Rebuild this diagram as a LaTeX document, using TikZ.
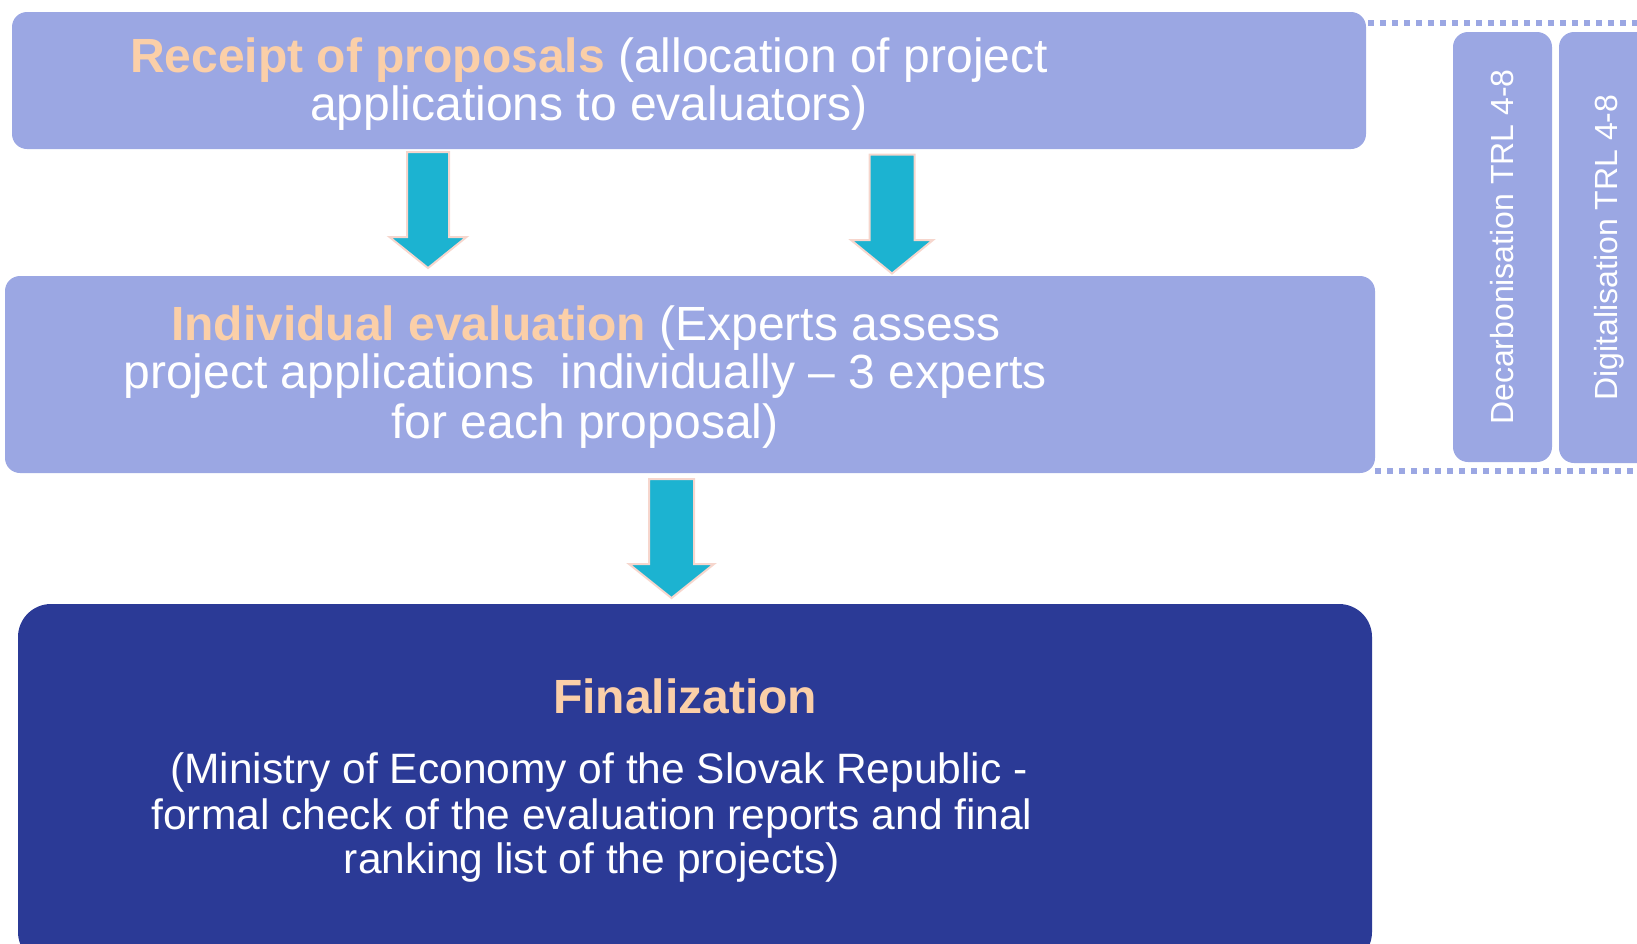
\documentclass[tikz,border=0pt]{standalone}
\usepackage{fontspec}
\setmainfont{Liberation Sans}
\definecolor{boxlight}{HTML}{9BA7E3}
\definecolor{boxdark}{HTML}{2B3A96}
\definecolor{peach}{HTML}{FBCFA8}
\definecolor{arrowcyan}{HTML}{1CB3D1}
\definecolor{arrowedge}{HTML}{F6D6CD}
\newcommand{\blockarrow}[6]{%
  \fill[arrowcyan, draw=arrowedge, line width=2pt, line join=miter]
    (#1-#5,#2) -- (#1+#5,#2) -- (#1+#5,#3) -- (#1+#6,#3) -- (#1,#4)
    -- (#1-#6,#3) -- (#1-#5,#3) -- cycle;}
\tikzset{
  lightbox/.style={fill=boxlight, draw=none, rounded corners=15pt, rectangle, inner sep=0pt},
  darkbox/.style={fill=boxdark, draw=none, rounded corners=33pt, rectangle, inner sep=0pt},
  txt/.style={anchor=base, text=white, inner sep=0pt},
  big/.style={font=\fontsize{48}{52}\selectfont},
  mid/.style={font=\fontsize{48}{52}\selectfont},
  small/.style={font=\fontsize{42.5}{46}\selectfont},
  side/.style={font=\fontsize{32}{36}\selectfont, text=white},
  dotline/.style={boxlight, line width=6pt, dash pattern=on 6pt off 6pt},
}
\begin{document}
\begin{tikzpicture}[x=1pt,y=-1pt]
\useasboundingbox (0,0) rectangle (1637,943);
\clip (0,0) rectangle (1637,943);
% boxes
\node[lightbox, minimum width=1354pt, minimum height=137pt] (receipt) at (689,80.5) {};
\node[lightbox, minimum width=1370pt, minimum height=197pt] (eval) at (690,374.5) {};
\node[darkbox, minimum width=1354pt, minimum height=361pt] (final) at (695,784.5) {};
\node[lightbox, rotate=90, minimum width=430pt, minimum height=99pt, side] (decarb) at (1502.5,247) {Decarbonisation TRL 4-8};
\node[lightbox, rotate=90, minimum width=431pt, minimum height=101pt, side] (digit) at (1609.5,247.5) {Digitalisation TRL 4-8};
% dotted brackets
\coordinate (dtop) at (1640,23);
\coordinate (dbot) at (1640,471);
\draw[dotline] (receipt.east |- dtop) ++(2,0) -- (dtop);
\draw[dotline] (eval.east |- dbot) -- (dbot);
% arrows
\blockarrow{428}{152}{237}{268}{21}{38.5}
\blockarrow{892}{154.5}{240}{273.5}{22.5}{41}
\blockarrow{671.5}{479}{564}{598}{22.5}{42.5}
% texts
\node[txt, big] (r1) at (589,72) {\textcolor{peach}{\textbf{Receipt of proposals}} (allocation of project};
\node[txt, big] (r2) at (589,120) {applications to evaluators)};
\node[txt, mid] (e1) at (586,340) {\textcolor{peach}{\textbf{Individual evaluation}} (Experts assess};
\node[txt, mid] (e2) at (585,388) {project applications~ individually – 3 experts};
\node[txt, mid] (e3) at (585,438) {for each proposal)};
\node[txt, mid, text=peach] (f0) at (685,713) {\textbf{Finalization}};
\node[txt, small] (f1) at (599,783) {(Ministry of Economy of the Slovak Republic -};
\node[txt, small] (f2) at (592,829) {formal check of the evaluation reports and final};
\node[txt, small] (f3) at (592,873) {ranking list of the projects)};
\end{tikzpicture}
\end{document}
